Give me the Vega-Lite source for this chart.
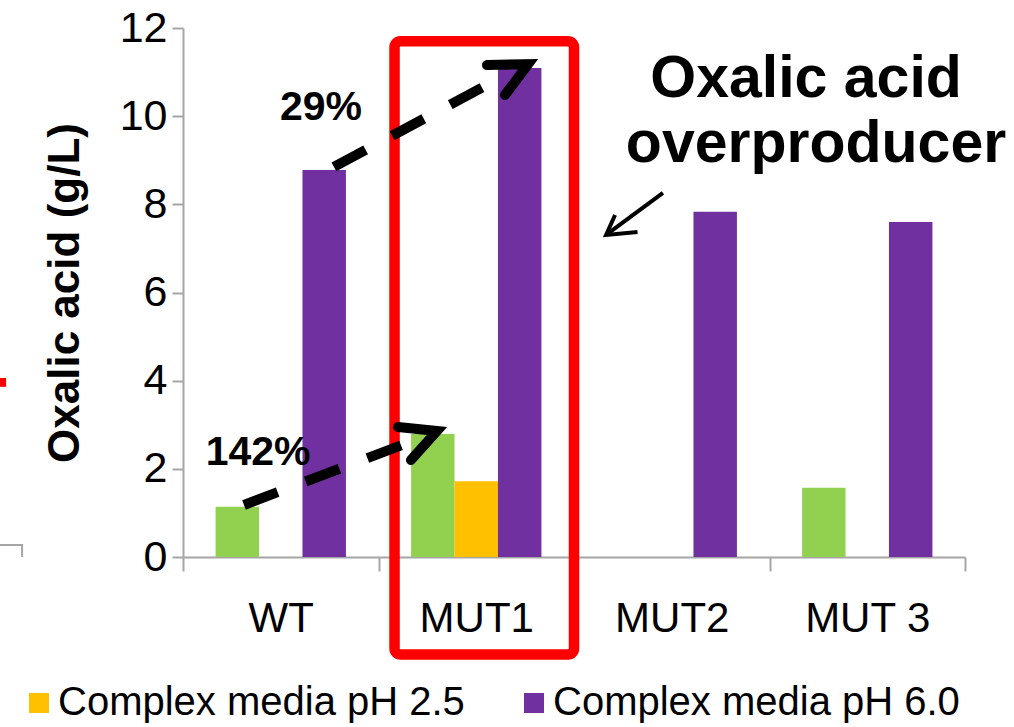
{
  "$schema": "https://vega.github.io/schema/vega-lite/v6.json",
  "width": 782,
  "height": 529,
  "autosize": "none",
  "padding": {"left": 183, "top": 28, "right": 49, "bottom": 170},
  "background": "white",
  "config": {"view": {"stroke": null}, "axis": {"grid": false}, "font": "Liberation Sans"},
  "datasets": {
    "bars": [
      {"strain": "WT", "medium": "Minimal media", "oxalic": 1.14},
      {"strain": "WT", "medium": "Complex media pH 6.0", "oxalic": 8.78},
      {"strain": "MUT1", "medium": "Minimal media", "oxalic": 2.79},
      {"strain": "MUT1", "medium": "Complex media pH 2.5", "oxalic": 1.72},
      {"strain": "MUT1", "medium": "Complex media pH 6.0", "oxalic": 11.09},
      {"strain": "MUT2", "medium": "Complex media pH 6.0", "oxalic": 7.83},
      {"strain": "MUT 3", "medium": "Minimal media", "oxalic": 1.57},
      {"strain": "MUT 3", "medium": "Complex media pH 6.0", "oxalic": 7.6}
    ],
    "box": [{"u1": 1.082, "u2": 2.0, "v1": 11.7, "v2": -2.21}],
    "frag": [{"u1": -0.936, "u2": -0.905, "v1": 4.06, "v2": 3.86}],
    "lines": [
      {"id": "a1", "kind": "dash", "ord": 1, "u": 0.312, "v": 1.18},
      {"id": "a1", "kind": "dash", "ord": 2, "u": 1.187, "v": 2.654},
      {"id": "a2", "kind": "dash", "ord": 1, "u": 0.772, "v": 8.848},
      {"id": "a2", "kind": "dash", "ord": 2, "u": 1.621, "v": 10.867},
      {"id": "c1", "kind": "head", "ord": 1, "u": 1.1, "v": 2.949},
      {"id": "c1", "kind": "head", "ord": 2, "u": 1.299, "v": 2.858},
      {"id": "c1", "kind": "head", "ord": 3, "u": 1.166, "v": 2.2},
      {"id": "c2", "kind": "head", "ord": 1, "u": 1.555, "v": 11.16},
      {"id": "c2", "kind": "head", "ord": 2, "u": 1.765, "v": 11.18},
      {"id": "c2", "kind": "head", "ord": 3, "u": 1.647, "v": 10.48},
      {"id": "t1", "kind": "thin", "ord": 1, "u": 2.455, "v": 8.258},
      {"id": "t1", "kind": "thin", "ord": 2, "u": 2.164, "v": 7.305},
      {"id": "t2", "kind": "thin", "ord": 1, "u": 2.21, "v": 7.758},
      {"id": "t2", "kind": "thin", "ord": 2, "u": 2.164, "v": 7.305},
      {"id": "t2", "kind": "thin", "ord": 3, "u": 2.325, "v": 7.373},
      {"id": "g1", "kind": "gray", "ord": 1, "u": -0.936, "v": 0.272},
      {"id": "g1", "kind": "gray", "ord": 2, "u": -0.823, "v": 0.272},
      {"id": "g1", "kind": "gray", "ord": 3, "u": -0.823, "v": 0}
    ],
    "texts": [
      {"kind": "pct", "label": "29%", "u": 0.706, "v": 10.19},
      {"kind": "pct", "label": "142%", "u": 0.384, "v": 2.36},
      {"kind": "call", "label": "Oxalic acid", "u": 3.187, "v": 10.435},
      {"kind": "call", "label": "overproducer", "u": 3.238, "v": 8.961}
    ]
  },
  "resolve": {"scale": {"x": "independent"}, "axis": {"x": "independent"}},
  "layer": [
    {
      "data": {"name": "bars"},
      "mark": {"type": "bar"},
      "encoding": {
        "x": {
          "field": "strain", "type": "nominal",
          "sort": ["WT", "MUT1", "MUT2", "MUT 3"],
          "scale": {"domain": ["WT", "MUT1", "MUT2", "MUT 3"], "paddingInner": 0, "paddingOuter": 0},
          "axis": {
            "title": null, "labelAngle": 0, "tickBand": "extent",
            "tickSize": 14, "tickColor": "#A6A6A6", "tickWidth": 2,
            "domainColor": "#A6A6A6", "domainWidth": 2,
            "labelFont": "Liberation Sans", "labelFontSize": 42, "labelColor": "black",
            "labelPadding": 27
          }
        },
        "xOffset": {
          "field": "medium", "type": "nominal",
          "scale": {"domain": ["Minimal media", "Complex media pH 2.5", "Complex media pH 6.0"], "paddingInner": 0, "paddingOuter": 0.75}
        },
        "y": {
          "field": "oxalic", "type": "quantitative",
          "scale": {"domain": [0, 12], "nice": false},
          "axis": {
            "values": [0, 2, 4, 6, 8, 10, 12],
            "title": "Oxalic acid (g/L)",
            "titleFont": "Liberation Sans", "titleFontSize": 44, "titleFontWeight": "bold", "titleColor": "black",
            "titlePadding": 32,
            "labelFont": "Liberation Sans", "labelFontSize": 43, "labelColor": "black", "labelPadding": 5,
            "labelFlush": false, "labelOverlap": false,
            "tickSize": 11, "tickColor": "#A6A6A6", "tickWidth": 2,
            "domainColor": "#A6A6A6", "domainWidth": 2
          }
        },
        "color": {
          "field": "medium", "type": "nominal",
          "scale": {"domain": ["Minimal media", "Complex media pH 2.5", "Complex media pH 6.0"], "range": ["#92D050", "#FFC000", "#7030A0"]},
          "legend": {
            "values": ["Complex media pH 2.5", "Complex media pH 6.0"],
            "title": null, "orient": "none", "direction": "horizontal",
            "legendX": -164, "legendY": 655,
            "symbolType": "square", "symbolSize": 400, "symbolStrokeWidth": 0, "symbolOpacity": 1,
            "labelFont": "Liberation Sans", "labelFontSize": 40, "labelColor": "black",
            "labelLimit": 1000, "labelOffset": -1, "columnPadding": 49
          }
        }
      }
    },
    {
      "data": {"name": "box"},
      "mark": {"type": "rect", "filled": false, "stroke": "#FF0000", "strokeWidth": 10.5, "cornerRadius": 6},
      "encoding": {
        "x": {"field": "u1", "type": "quantitative", "scale": {"domain": [0, 4], "nice": false, "zero": false}, "axis": null},
        "x2": {"field": "u2"},
        "y": {"field": "v1", "type": "quantitative", "scale": {"domain": [0, 12], "nice": false}},
        "y2": {"field": "v2"}
      }
    },
    {
      "data": {"name": "frag"},
      "mark": {"type": "rect", "fill": "#FF0000"},
      "encoding": {
        "x": {"field": "u1", "type": "quantitative", "scale": {"domain": [0, 4], "nice": false, "zero": false}, "axis": null},
        "x2": {"field": "u2"},
        "y": {"field": "v1", "type": "quantitative", "scale": {"domain": [0, 12], "nice": false}},
        "y2": {"field": "v2"}
      }
    },
    {
      "data": {"name": "lines"},
      "transform": [{"filter": "datum.kind === 'gray'"}],
      "mark": {"type": "line", "stroke": "#A6A6A6", "strokeWidth": 2},
      "encoding": {
        "x": {"field": "u", "type": "quantitative", "scale": {"domain": [0, 4], "nice": false, "zero": false}, "axis": null},
        "y": {"field": "v", "type": "quantitative", "scale": {"domain": [0, 12], "nice": false}},
        "detail": {"field": "id"},
        "order": {"field": "ord"}
      }
    },
    {
      "data": {"name": "lines"},
      "transform": [{"filter": "datum.kind === 'dash'"}],
      "mark": {"type": "line", "stroke": "black", "strokeWidth": 10, "strokeDash": [36, 30], "strokeCap": "butt"},
      "encoding": {
        "x": {"field": "u", "type": "quantitative", "scale": {"domain": [0, 4], "nice": false, "zero": false}, "axis": null},
        "y": {"field": "v", "type": "quantitative", "scale": {"domain": [0, 12], "nice": false}},
        "detail": {"field": "id"},
        "order": {"field": "ord"}
      }
    },
    {
      "data": {"name": "lines"},
      "transform": [{"filter": "datum.kind === 'head'"}],
      "mark": {"type": "line", "stroke": "black", "strokeWidth": 10, "strokeCap": "round", "strokeJoin": "miter"},
      "encoding": {
        "x": {"field": "u", "type": "quantitative", "scale": {"domain": [0, 4], "nice": false, "zero": false}, "axis": null},
        "y": {"field": "v", "type": "quantitative", "scale": {"domain": [0, 12], "nice": false}},
        "detail": {"field": "id"},
        "order": {"field": "ord"}
      }
    },
    {
      "data": {"name": "lines"},
      "transform": [{"filter": "datum.kind === 'thin'"}],
      "mark": {"type": "line", "stroke": "black", "strokeWidth": 4, "strokeCap": "butt", "strokeJoin": "miter"},
      "encoding": {
        "x": {"field": "u", "type": "quantitative", "scale": {"domain": [0, 4], "nice": false, "zero": false}, "axis": null},
        "y": {"field": "v", "type": "quantitative", "scale": {"domain": [0, 12], "nice": false}},
        "detail": {"field": "id"},
        "order": {"field": "ord"}
      }
    },
    {
      "data": {"name": "texts"},
      "transform": [{"filter": "datum.kind === 'pct'"}],
      "mark": {"type": "text", "font": "Liberation Sans", "fontSize": 41, "fontWeight": "bold", "color": "black", "align": "center", "baseline": "middle"},
      "encoding": {
        "x": {"field": "u", "type": "quantitative", "scale": {"domain": [0, 4], "nice": false, "zero": false}, "axis": null},
        "y": {"field": "v", "type": "quantitative", "scale": {"domain": [0, 12], "nice": false}},
        "text": {"field": "label"}
      }
    },
    {
      "data": {"name": "texts"},
      "transform": [{"filter": "datum.kind === 'call'"}],
      "mark": {"type": "text", "font": "Liberation Sans", "fontSize": 59, "fontWeight": "bold", "color": "black", "align": "center", "baseline": "alphabetic"},
      "encoding": {
        "x": {"field": "u", "type": "quantitative", "scale": {"domain": [0, 4], "nice": false, "zero": false}, "axis": null},
        "y": {"field": "v", "type": "quantitative", "scale": {"domain": [0, 12], "nice": false}},
        "text": {"field": "label"}
      }
    }
  ]
}
